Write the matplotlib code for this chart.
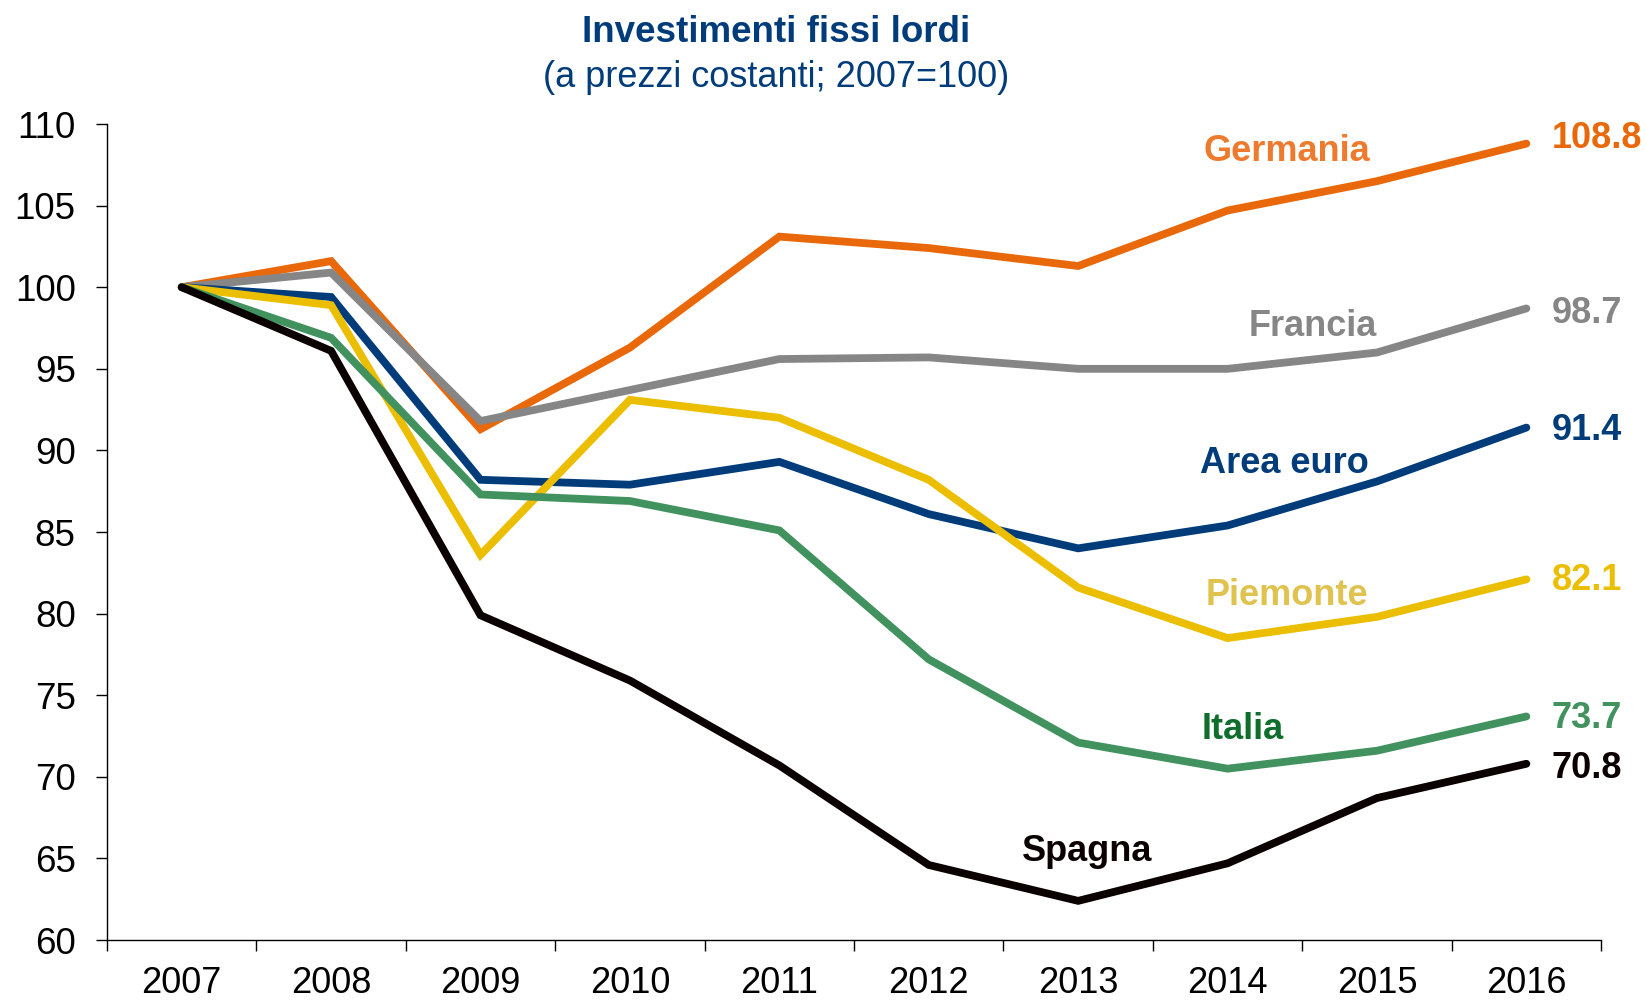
import matplotlib.pyplot as plt
import numpy as np

plt.rcParams['font.family'] = ['Liberation Sans', 'DejaVu Sans']

# data (2007 = 100)
years = ["2007", "2008", "2009", "2010", "2011", "2012", "2013", "2014", "2015", "2016"]
germania = [100, 101.6, 91.3, 96.3, 103.1, 102.4, 101.3, 104.7, 106.5, 108.8]
francia = [100, 100.9, 91.8, 93.7, 95.6, 95.7, 95.0, 95.0, 96.0, 98.7]
area_euro = [100, 99.4, 88.2, 87.9, 89.3, 86.1, 84.0, 85.4, 88.1, 91.4]
piemonte = [100, 98.9, 83.6, 93.1, 92.0, 88.2, 81.6, 78.5, 79.8, 82.1]
italia = [100, 96.9, 87.3, 86.9, 85.1, 77.2, 72.1, 70.5, 71.6, 73.7]
spagna = [100, 96.1, 79.9, 75.9, 70.7, 64.6, 62.4, 64.7, 68.7, 70.8]

names = ["Germania", "Francia", "Area euro", "Piemonte", "Italia", "Spagna"]
series = [germania, francia, area_euro, piemonte, italia, spagna]
line_colors = ["#E8680A", "#868686", "#003B7A", "#EBBE00", "#41925E", "#0A0000"]
name_colors = ["#EE7A2E", "#868686", "#003B7A", "#E0C24E", "#0F6E2C", "#0A0000"]
# where the series names sit (category index, value)
name_x = [7.40, 7.57, 7.38, 7.40, 7.10, 6.06]
name_y = [108.3, 97.6, 89.2, 81.1, 72.9, 65.4]
end_y = [109.1, 98.4, 91.2, 82.0, 73.6, 70.5]

fig = plt.figure(figsize=(16.46, 10.01), dpi=100)
ax = fig.add_axes([0.065, 0.0609, 0.9077, 0.8152])

x = np.arange(len(years))
for vals, c in zip(series, line_colors):
    ax.plot(x, vals, color=c, lw=5.6, solid_capstyle="round", solid_joinstyle="miter")

for name, nx, ny, c in zip(names, name_x, name_y, name_colors):
    ax.text(nx, ny, name, color=c, fontsize=26, fontweight="bold", ha="center", va="center")

for vals, ey, c in zip(series, end_y, line_colors):
    ax.text(x[-1] + 0.17, ey, f"{vals[-1]:.1f}", color=c, fontsize=26,
            fontweight="bold", ha="left", va="center", clip_on=False)

ax.set_xlim(-0.5, len(years) - 0.5)
ax.set_ylim(60, 110)
ax.set_yticks(np.arange(60, 111, 5))
ax.set_xticks(x)
ax.set_xticklabels(years)
ax.set_xticks(np.arange(-0.5, len(years), 1), minor=True)

ax.tick_params(axis="y", direction="out", length=8, width=1, labelsize=26.5, pad=14.5)
ax.tick_params(axis="x", which="major", length=0, labelsize=26, pad=19)
ax.tick_params(axis="x", which="minor", direction="out", length=8, width=1)

for s in ["top", "right"]:
    ax.spines[s].set_visible(False)
for s in ["left", "bottom"]:
    ax.spines[s].set_linewidth(1.0)

fig.text(0.4713, 0.9680, "Investimenti fissi lordi", color="#003B7A", fontsize=26.5,
         fontweight="bold", ha="center", va="center")
fig.text(0.4713, 0.9225, "(a prezzi costanti; 2007=100)", color="#003B7A", fontsize=26,
         ha="center", va="center")

plt.savefig("out.png", dpi=100)
